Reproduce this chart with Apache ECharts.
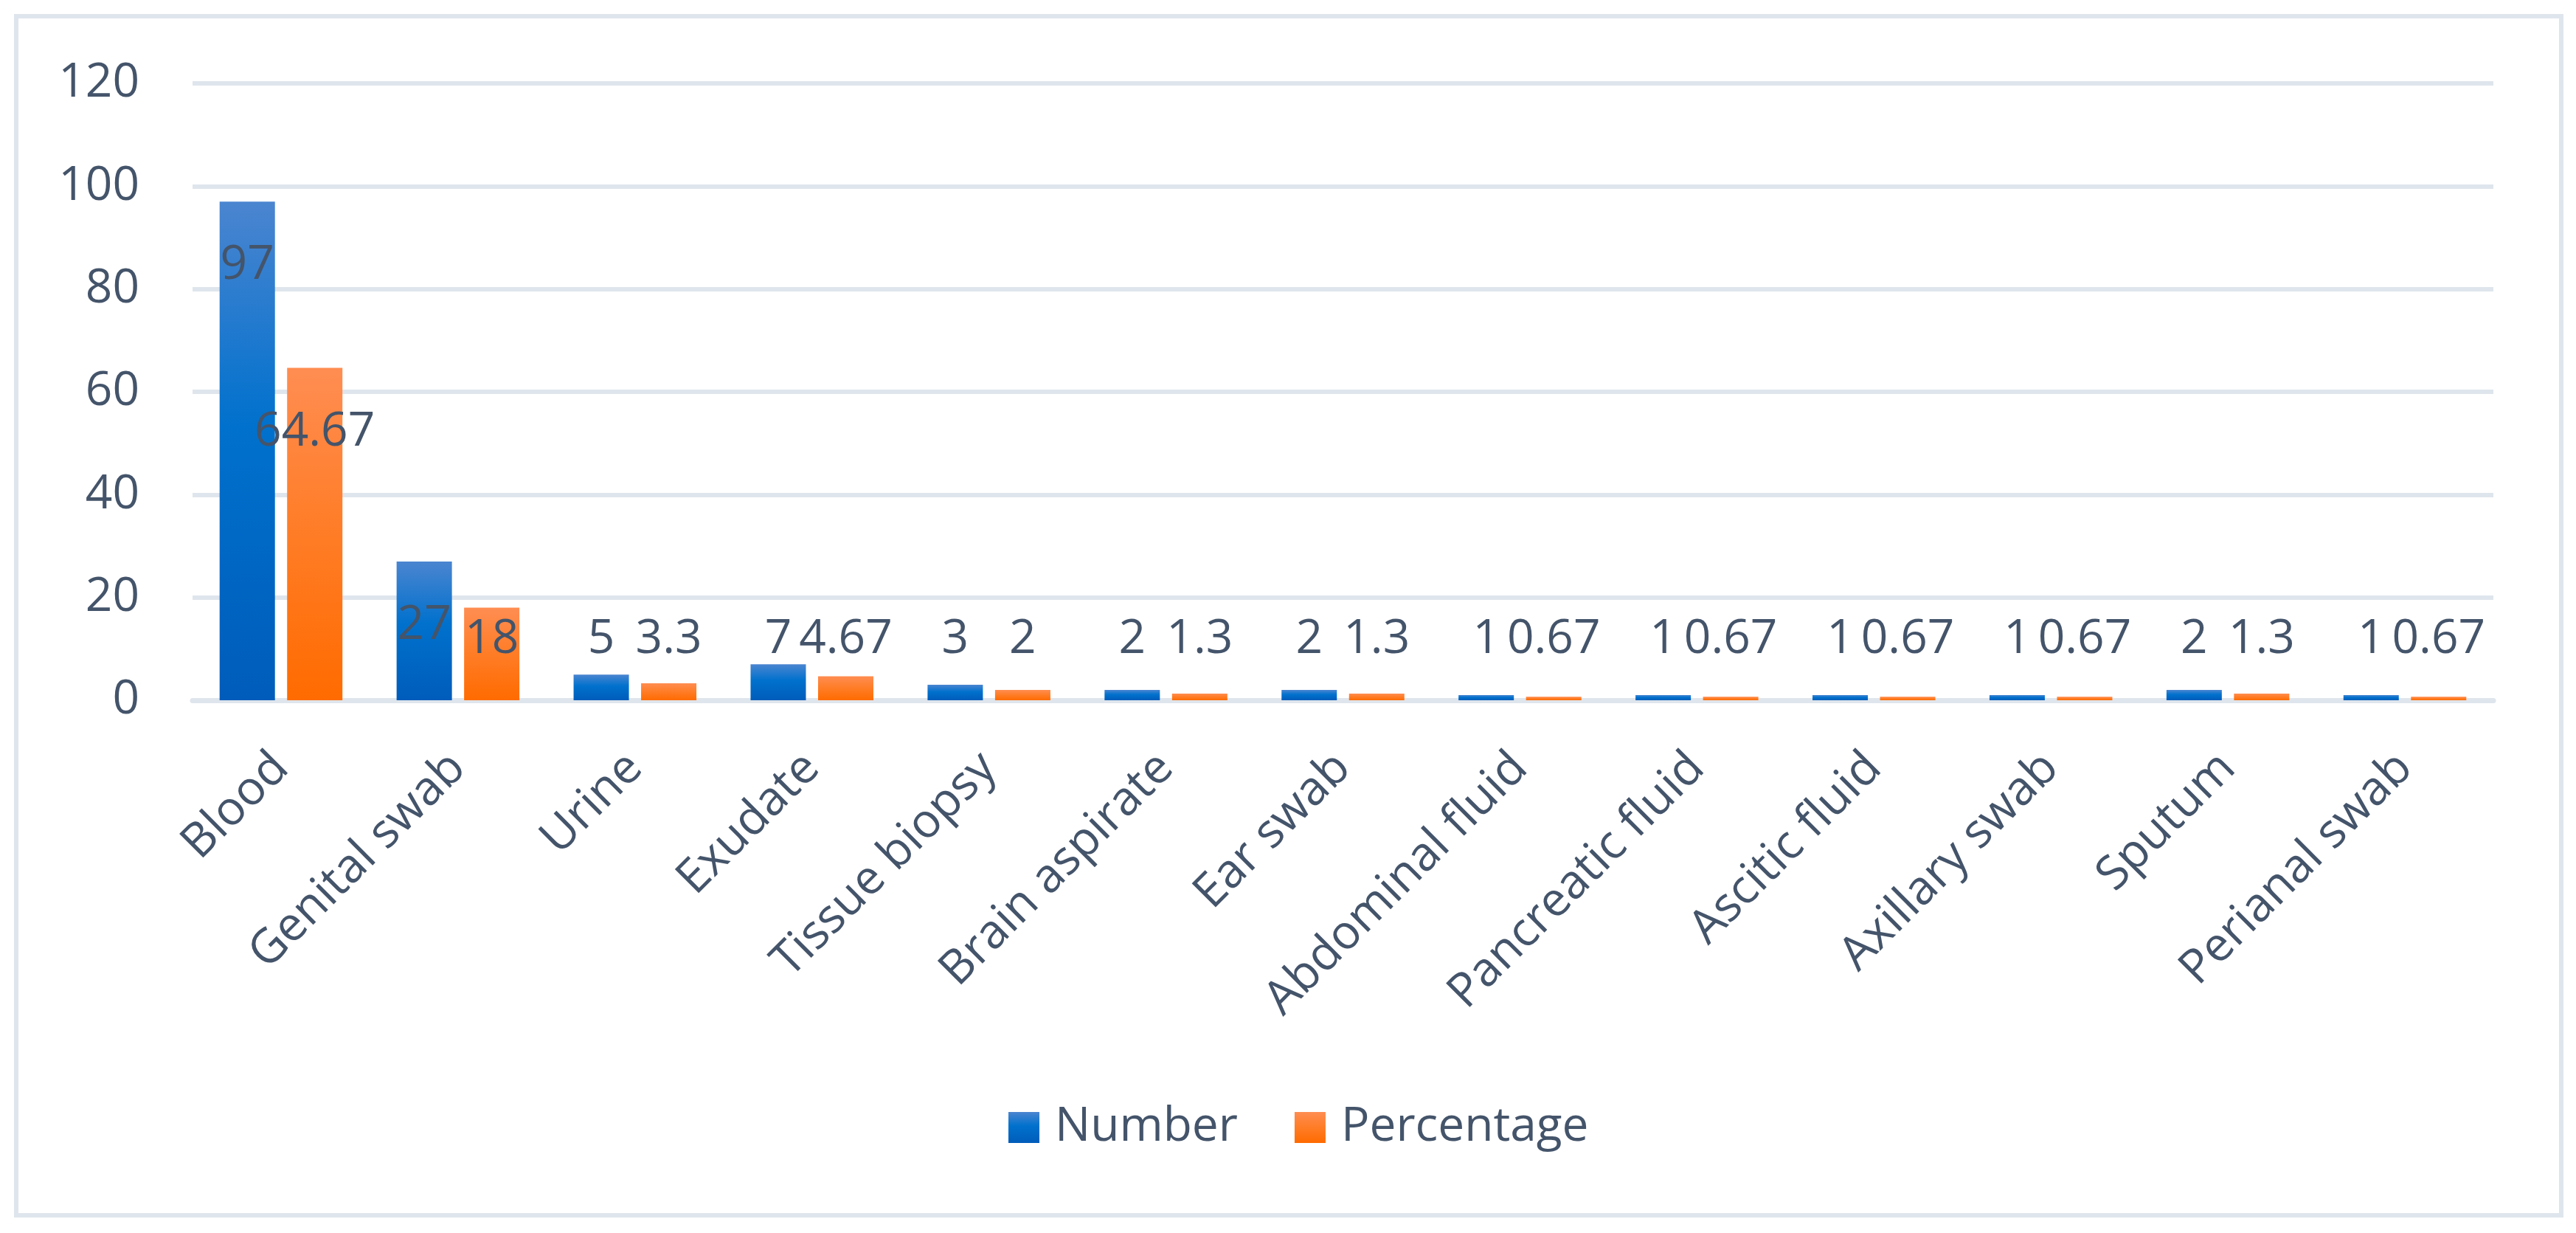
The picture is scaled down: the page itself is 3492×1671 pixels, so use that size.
<!DOCTYPE html>
<html>
<head>
<meta charset="utf-8">
<script src="https://cdn.jsdelivr.net/npm/echarts@6/dist/echarts.min.js"></script>
<style>
html,body{margin:0;padding:0;background:#fff;}
#chart{width:3492px;height:1671px;}
</style>
</head>
<body>
<div id="chart"></div>
<script>
const categories = ['Blood','Genital swab','Urine','Exudate','Tissue biopsy','Brain aspirate','Ear swab','Abdominal fluid','Pancreatic fluid','Ascitic fluid','Axillary swab','Sputum','Perianal swab'];
const numberValues = [97,27,5,7,3,2,2,1,1,1,1,2,1];
const percentageValues = [64.67,18,3.3,4.67,2,1.3,1.3,0.67,0.67,0.67,0.67,1.3,0.67];
const seriesNames = ['Number','Percentage'];
const yTicks = {min:0, max:120, interval:20};

const FONT = 'Open Sans';
const TEXT = '#44546A';
const LINE = '#DFE5EC';

const blueGrad = new echarts.graphic.LinearGradient(0,0,0,1,[
  {offset:0,color:'#4B85D0'},{offset:0.45,color:'#0071CD'},{offset:1,color:'#005CBA'}]);
const orangeGrad = new echarts.graphic.LinearGradient(0,0,0,1,[
  {offset:0,color:'#FF8D52'},{offset:0.45,color:'#FF7E2A'},{offset:1,color:'#FF6B00'}]);

function items(vals){
  return vals.map(v => ({
    value: v,
    label: v > 20 ? {position:'insideTop', distance:55} : {position:'insideBottom', distance:50}
  }));
}
const labelStyle = {show:true, fontFamily:FONT, fontSize:64, lineHeight:64, color:TEXT};

const chart = echarts.init(document.getElementById('chart'));
chart.setOption({
  animation:false,
  backgroundColor:'#fff',
  textStyle:{fontFamily:FONT},
  graphic:[{type:'rect', z:-10, shape:{x:22,y:22,width:3450,height:1625}, style:{fill:null, stroke:LINE, lineWidth:6}}],
  grid:{left:261, right:112, top:113, bottom:722},
  legend:{
    data:seriesNames, left:1367, top:1496, itemWidth:42, itemHeight:42, itemGap:77, icon:'rect', padding:0,
    textStyle:{fontFamily:FONT, fontSize:64, color:TEXT, lineHeight:64, padding:[0,0,0,16]}
  },
  xAxis:{
    type:'category', data:categories,
    axisLine:{show:true, lineStyle:{color:LINE, width:7}},
    axisTick:{show:false},
    axisLabel:{interval:0, rotate:45, margin:82, fontFamily:FONT, fontSize:64, color:TEXT}
  },
  yAxis:{
    type:'value', min:yTicks.min, max:yTicks.max, interval:yTicks.interval,
    axisLine:{show:false}, axisTick:{show:false},
    splitLine:{lineStyle:{color:LINE, width:6}},
    axisLabel:{margin:72, fontFamily:FONT, fontSize:64, color:TEXT}
  },
  series:[
    {name:seriesNames[0], type:'bar', data:items(numberValues), barWidth:75, barGap:'22%',
     itemStyle:{color:blueGrad}, label:labelStyle},
    {name:seriesNames[1], type:'bar', data:items(percentageValues), barWidth:75, barGap:'22%',
     itemStyle:{color:orangeGrad}, label:labelStyle}
  ]
});
</script>
</body>
</html>
